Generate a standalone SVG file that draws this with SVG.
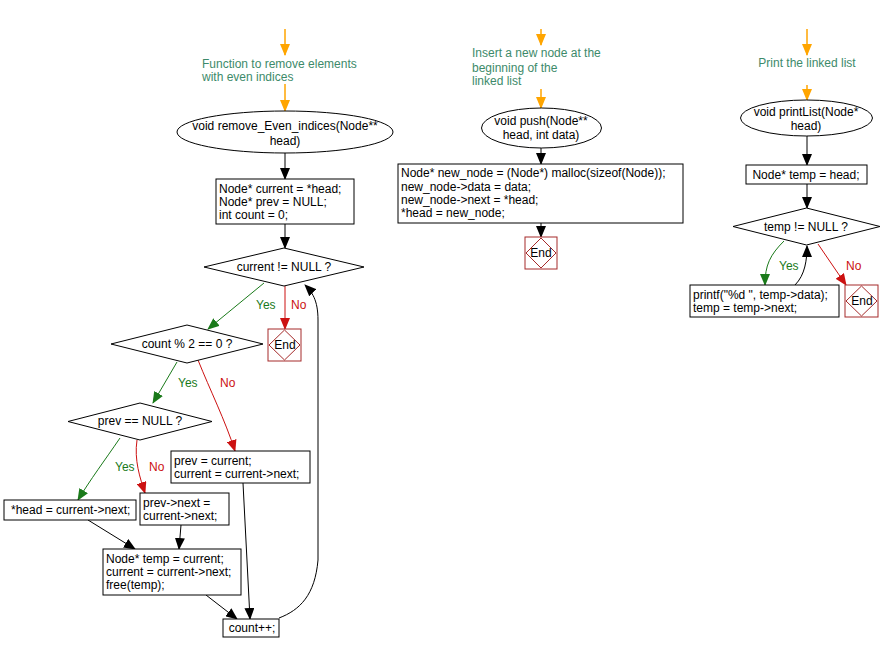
<svg xmlns="http://www.w3.org/2000/svg" width="888" height="652" viewBox="0 0 888 652">
<style>
text{font-family:"Liberation Sans",Arial,sans-serif;font-size:12px;fill:#000}
.c{text-anchor:middle}
.cm{fill:#3d8a6a}
.y{fill:#1a7a1a}
.n{fill:#cc1111}
.nd{fill:#fff;stroke:#000;stroke-width:1}
.end rect,.end path{fill:#fff;stroke:#a52a2a;stroke-width:1}
.k{fill:none;stroke:#000;stroke-width:1;marker-end:url(#mk)}
.o{fill:none;stroke:#ffa500;stroke-width:1.5;marker-end:url(#mo)}
.g{fill:none;stroke:#1a7a1a;stroke-width:1;marker-end:url(#mg)}
.r{fill:none;stroke:#cc1111;stroke-width:1;marker-end:url(#mr)}
</style>
<defs>
<marker id="mk" markerWidth="12" markerHeight="10" refX="11" refY="5" orient="auto" markerUnits="userSpaceOnUse"><path d="M0,0 L12,5 L0,10 z" fill="#000"/></marker>
<marker id="mo" markerWidth="12" markerHeight="10" refX="11" refY="5" orient="auto" markerUnits="userSpaceOnUse"><path d="M0,0 L12,5 L0,10 z" fill="#ffa500"/></marker>
<marker id="mg" markerWidth="12" markerHeight="10" refX="11" refY="5" orient="auto" markerUnits="userSpaceOnUse"><path d="M0,0 L12,5 L0,10 z" fill="#1a7a1a"/></marker>
<marker id="mr" markerWidth="12" markerHeight="10" refX="11" refY="5" orient="auto" markerUnits="userSpaceOnUse"><path d="M0,0 L12,5 L0,10 z" fill="#cc1111"/></marker>
</defs>

<g id="connectors">
<path class="o" d="M285,29 L285,55"/>
<path class="o" d="M285,84 L285,111"/>
<path class="k" d="M285,153 L285,179"/>
<path class="k" d="M285,224 L285,248"/>
<path class="g" d="M264,283 L208,329"/>
<path class="r" d="M285,286 L285,329"/>
<path class="g" d="M177,362 L153,403"/>
<path class="r" d="M198,360 C210,390 225,420 235,451"/>
<path class="g" d="M120,438 C105,460 90,480 78,500"/>
<path class="r" d="M137,440 C134,460 140,478 145,493"/>
<path class="k" d="M88,520 L135,549"/>
<path class="k" d="M181,525 L179,549"/>
<path class="k" d="M206,595 L237,619"/>
<path class="k" d="M243,483 L250,619"/>
<path class="k" d="M279,618 C300,610 315,595 318,560 L318,320 C318,300 312,292 305,285"/>
<path class="o" d="M541,29 L541,45"/>
<path class="o" d="M541,89 L541,108"/>
<path class="k" d="M541,148 L541,164"/>
<path class="k" d="M541,223 L541,237"/>
<path class="o" d="M807,29 L807,55"/>
<path class="o" d="M807,85 L807,100"/>
<path class="k" d="M807,136 L807,165"/>
<path class="k" d="M807,184 L807,208"/>
<path class="g" d="M784,241 C770,255 765,265 765,285"/>
<path class="k" d="M795,285 C805,275 807,260 807,246"/>
<path class="r" d="M818,244 L846,285"/>
<text class="y" x="256" y="309">Yes</text>
<text class="n" x="291" y="309">No</text>
<text class="y" x="178" y="387">Yes</text>
<text class="n" x="220" y="387">No</text>
<text class="y" x="115" y="471">Yes</text>
<text class="n" x="149" y="471">No</text>
<text class="y" x="779" y="270">Yes</text>
<text class="n" x="846" y="270">No</text>
</g>

<g id="comment1"><text class="cm" x="202" y="68">Function to remove elements</text><text class="cm" x="202" y="81">with even indices</text></g>
<g id="func1"><ellipse class="nd" cx="285" cy="132" rx="108" ry="21"/><text class="c" x="285" y="130">void remove_Even_indices(Node**</text><text class="c" x="285" y="145">head)</text></g>
<g id="init1"><rect class="nd" x="216" y="179" width="138" height="45"/><text x="219" y="193">Node* current = *head;</text><text x="219" y="206">Node* prev = NULL;</text><text x="219" y="219">int count = 0;</text></g>
<g id="dec1"><path class="nd" d="M204,267 L284,248 L364,267 L284,286 z"/><text class="c" x="284" y="271">current != NULL ?</text></g>
<g id="end1" class="end"><rect x="268" y="329" width="33" height="32"/><path d="M284.5,330 L300,345 L284.5,360 L269,345 z"/><text class="c" x="285" y="349">End</text></g>
<g id="dec2"><path class="nd" d="M111,344 L187,325 L263,344 L187,363 z"/><text class="c" x="187" y="348">count % 2 == 0 ?</text></g>
<g id="dec3"><path class="nd" d="M68,421.5 L140,403 L212,421.5 L140,440 z"/><text class="c" x="140" y="425">prev == NULL ?</text></g>
<g id="head1"><rect class="nd" x="4" y="500" width="132" height="20"/><text x="11" y="514">*head = current-&gt;next;</text></g>
<g id="prevnext"><rect class="nd" x="140" y="493" width="89" height="32"/><text x="143" y="507">prev-&gt;next =</text><text x="143" y="520">current-&gt;next;</text></g>
<g id="prevcur"><rect class="nd" x="171" y="451" width="139" height="32"/><text x="174" y="465">prev = current;</text><text x="174" y="478">current = current-&gt;next;</text></g>
<g id="temp1"><rect class="nd" x="103" y="549" width="138" height="46"/><text x="106" y="563">Node* temp = current;</text><text x="106" y="576">current = current-&gt;next;</text><text x="106" y="589">free(temp);</text></g>
<g id="countpp"><rect class="nd" x="223" y="619" width="56" height="18"/><text class="c" x="252" y="632">count++;</text></g>

<g id="comment2"><text class="cm" x="472" y="57">Insert a new node at the</text><text class="cm" x="472" y="72">beginning of the</text><text class="cm" x="472" y="85">linked list</text></g>
<g id="func2"><ellipse class="nd" cx="541.5" cy="128" rx="60" ry="20"/><text class="c" x="541" y="125">void push(Node**</text><text class="c" x="541" y="139">head, int data)</text></g>
<g id="body2"><rect class="nd" x="398" y="164" width="285" height="59"/><text x="401" y="177">Node* new_node = (Node*) malloc(sizeof(Node));</text><text x="401" y="191">new_node-&gt;data = data;</text><text x="401" y="204">new_node-&gt;next = *head;</text><text x="401" y="217">*head = new_node;</text></g>
<g id="end2" class="end"><rect x="525" y="237" width="32" height="32"/><path d="M541,238 L556,253 L541,268 L526,253 z"/><text class="c" x="541" y="257">End</text></g>

<g id="comment3"><text class="cm c" x="807" y="67">Print the linked list</text></g>
<g id="func3"><ellipse class="nd" cx="806.5" cy="118" rx="66" ry="18"/><text class="c" x="806" y="116">void printList(Node*</text><text class="c" x="806" y="130">head)</text></g>
<g id="init3"><rect class="nd" x="746" y="165" width="121" height="19"/><text class="c" x="806" y="179">Node* temp = head;</text></g>
<g id="dec4"><path class="nd" d="M733,226.5 L806.5,208 L880,226.5 L806.5,245 z"/><text class="c" x="806" y="231">temp != NULL ?</text></g>
<g id="print3"><rect class="nd" x="690" y="285" width="149" height="32"/><text x="693" y="299">printf("%d ", temp-&gt;data);</text><text x="693" y="312">temp = temp-&gt;next;</text></g>
<g id="end3" class="end"><rect x="845" y="285" width="33" height="32"/><path d="M861.5,286 L877,301 L861.5,316 L846,301 z"/><text class="c" x="862" y="305">End</text></g>
</svg>
